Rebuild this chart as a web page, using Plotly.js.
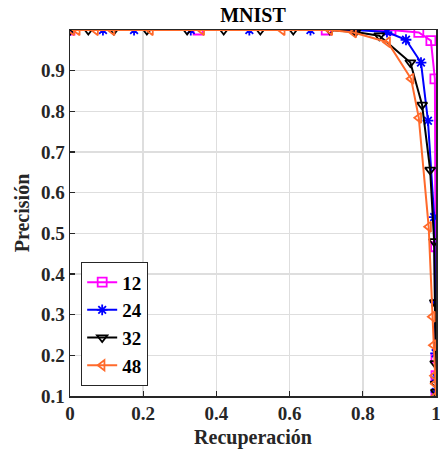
<!DOCTYPE html>
<html>
<head>
<meta charset="utf-8">
<script src="https://cdn.plot.ly/plotly-3.0.1.min.js"></script>
<style>html,body{margin:0;padding:0;background:#fff;}#chart{width:440px;height:453px;}</style>
</head>
<body>
<div id="chart"></div>
<script>
// Series names
const seriesNames = ["12", "24", "32", "48"];
// Recall (x) and precision (y) for each code length
const recall12 = [0.0, 0.35, 0.7, 0.877, 0.953, 0.986, 0.997, 0.999, 1.0, 1.0, 1.0];
const prec12   = [1.0, 1.0, 1.0, 1.0, 0.994, 0.974, 0.88, 0.467, 0.193, 0.15, 0.1];
const recall24 = [0.0, 0.09, 0.175, 0.33, 0.49, 0.657, 0.78, 0.866, 0.918, 0.959, 0.978, 0.995, 0.998, 0.999, 1.0, 1.0];
const prec24   = [1.0, 1.0, 1.0, 1.0, 1.0, 1.0, 1.0, 0.995, 0.976, 0.92, 0.777, 0.54, 0.33, 0.205, 0.146, 0.11];
const recall32 = [0.0, 0.05, 0.12, 0.21, 0.32, 0.42, 0.52, 0.61, 0.71, 0.78, 0.845, 0.93, 0.962, 0.984, 0.995, 0.997, 0.998, 0.999, 1.0];
const prec32   = [1.0, 1.0, 1.0, 1.0, 1.0, 1.0, 1.0, 1.0, 1.0, 0.995, 0.986, 0.92, 0.816, 0.656, 0.48, 0.33, 0.18, 0.13, 0.11];
const recall48 = [0.005, 0.02, 0.07, 0.115, 0.22, 0.36, 0.58, 0.71, 0.775, 0.868, 0.932, 0.953, 0.98, 0.99, 0.993, 0.996, 0.998, 1.0];
const prec48   = [1.0, 1.0, 1.0, 1.0, 1.0, 1.0, 1.0, 1.0, 0.994, 0.97, 0.88, 0.784, 0.516, 0.295, 0.225, 0.15, 0.13, 0.1];
const xTicks = [0, 0.2, 0.4, 0.6, 0.8, 1];
const xTickText = ["0", "0.2", "0.4", "0.6", "0.8", "1"];
const yTicks = [0.1, 0.2, 0.3, 0.4, 0.5, 0.6, 0.7, 0.8, 0.9];
const yTickText = ["0.1", "0.2", "0.3", "0.4", "0.5", "0.6", "0.7", "0.8", "0.9"];

const colors = ["#FF00FF", "#0000FF", "#000000", "#FF6A2B"];
const symbols = ["square-open", "asterisk-open", "triangle-down-open", "triangle-left-open"];
const xs = [recall12, recall24, recall32, recall48];
const ys = [prec12, prec24, prec32, prec48];

const serif = "Liberation Serif, Times New Roman, serif";
const traces = seriesNames.map((n, i) => ({
  x: xs[i], y: ys[i], name: n, type: "scatter", mode: "lines+markers",
  line: {color: colors[i], width: 2},
  marker: {symbol: symbols[i], size: 9, color: colors[i], line: {color: colors[i], width: 1.8}},
  cliponaxis: true
}));

const axisCommon = {
  showline: true, mirror: true, linecolor: "#262626", linewidth: 1.5,
  ticks: "inside", ticklen: 5, tickcolor: "#262626", tickwidth: 1.2,
  showgrid: true, gridcolor: "#dedede", gridwidth: 1.5, zeroline: false,
  ticklabeloverflow: "allow",
  tickfont: {family: serif, size: 19, color: "#262626", weight: 700}
};

const layout = {
  width: 440, height: 453,
  margin: {l: 70, r: 4, t: 30, b: 57},
  paper_bgcolor: "#ffffff", plot_bgcolor: "#ffffff",
  title: {text: "MNIST", font: {family: serif, size: 20, color: "#000", weight: 700}, x: 0.575, xanchor: "center", y: 0.966, yanchor: "middle"},
  xaxis: Object.assign({}, axisCommon, {
    range: [0, 1], tickvals: xTicks, ticktext: xTickText,
    title: {text: "Recuperación", font: {family: serif, size: 20, color: "#262626", weight: 700}, standoff: 6}
  }),
  yaxis: Object.assign({}, axisCommon, {
    range: [0.1, 1.0], tickvals: yTicks, ticktext: yTickText,
    title: {text: "Precisión", font: {family: serif, size: 20, color: "#262626", weight: 700}, standoff: 6}
  }),
  showlegend: true,
  legend: {
    x: 0.03, y: 0.027, xanchor: "left", yanchor: "bottom",
    bgcolor: "#ffffff", bordercolor: "#262626", borderwidth: 1.2,
    font: {family: serif, size: 19, color: "#000", weight: 700},
    tracegroupgap: 0, itemwidth: 30
  }
};

Plotly.newPlot("chart", traces, layout, {displayModeBar: false, staticPlot: true});
</script>
</body>
</html>
